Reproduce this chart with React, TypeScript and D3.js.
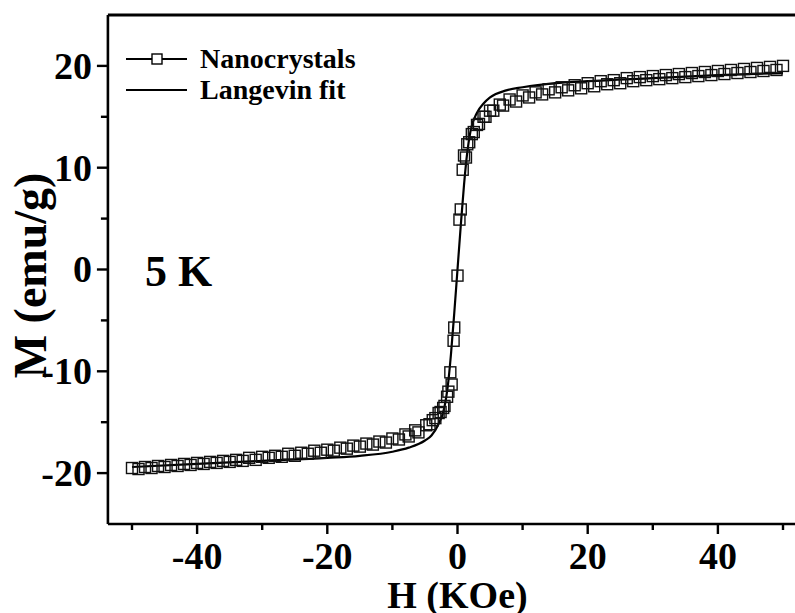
import React from "react";
import { scaleLinear, line, curveMonotoneX } from "d3";

// descending sweep (+50 -> -50 kOe)
const downH = [50, 48, 46, 44, 42, 40, 38, 36, 34, 32, 30, 28, 26, 24, 22, 20, 18, 16, 14, 12, 10, 8, 6.5, 5, 4, 3, 2.2, 1.5, 1.0, 0.5, 0, -0.5, -1.1, -1.6, -2.2, -2.9, -3.8, -4.8, -6.5, -8, -10, -12, -14, -16, -18, -20, -22, -24, -26, -28, -30, -32, -34, -36, -38, -40, -42, -44, -46, -48, -50];
const downM = [20.0, 19.9, 19.8, 19.7, 19.6, 19.5, 19.4, 19.3, 19.2, 19.1, 19.0, 18.9, 18.8, 18.6, 18.5, 18.3, 18.1, 17.9, 17.7, 17.4, 17.1, 16.7, 16.2, 15.6, 15.0, 14.2, 13.3, 12.3, 11.2, 5.9, -0.6, -5.7, -10.1, -12.5, -13.6, -14.1, -14.8, -15.3, -15.8, -16.2, -16.6, -16.9, -17.1, -17.3, -17.5, -17.7, -17.8, -18.0, -18.1, -18.3, -18.4, -18.5, -18.7, -18.8, -18.9, -19.0, -19.1, -19.2, -19.3, -19.4, -19.5];

// ascending sweep (-50 -> +50 kOe)
const upH = [-49, -47, -45, -43, -41, -39, -37, -35, -33, -31, -29, -27, -25, -23, -21, -19, -17, -15, -13, -11, -9, -7.5, -6, -4.3, -3.4, -2.6, -2, -1.4, -0.9, -0.6, 0.3, 0.8, 1.3, 1.8, 2.5, 3.3, 4.3, 5.5, 7, 9, 11, 13, 15, 17, 19, 21, 23, 25, 27, 29, 31, 33, 35, 37, 39, 41, 43, 45, 47, 49];
const upM = [-19.6, -19.5, -19.4, -19.3, -19.2, -19.1, -19.0, -18.9, -18.8, -18.7, -18.5, -18.4, -18.3, -18.1, -18.0, -17.8, -17.6, -17.4, -17.2, -17.0, -16.7, -16.4, -16.0, -15.2, -14.6, -14.0, -13.4, -12.0, -11.3, -7.0, 4.9, 9.8, 11.0, 12.5, 13.5, 14.3, 15.0, 15.6, 16.1, 16.5, 16.9, 17.2, 17.4, 17.6, 17.8, 18.0, 18.2, 18.3, 18.5, 18.6, 18.7, 18.8, 18.9, 19.0, 19.1, 19.2, 19.3, 19.4, 19.5, 19.6];

// Langevin fit curve
const fitH = [-50, -40, -30, -20, -15, -10, -7.5, -5, -4, -3, -2, -1.5, -1, -0.5, 0, 0.5, 1, 1.5, 2, 3, 4, 5, 7.5, 10, 15, 20, 30, 40, 50];
const fitM = [-19.4, -19.1, -18.8, -18.5, -18.3, -17.9, -17.5, -16.8, -16.3, -15.3, -13.5, -11.5, -8.3, -4.3, 0, 4.3, 8.3, 11.5, 13.6, 15.4, 16.3, 16.9, 17.6, 17.9, 18.3, 18.5, 18.8, 19.1, 19.3];

const xMajor = [-40, -20, 0, 20, 40];
const xMinor = [-50, -30, -10, 10, 30, 50];
const yMajor = [-20, -10, 0, 10, 20];
const yMinor = [-15, -5, 5, 15];

const W = 795;
const H = 613;
const FONT = "'Liberation Serif', 'Times New Roman', serif";

export default function App() {
  const x = scaleLinear().domain([-50, 50]).range([132, 783]);
  const y = scaleLinear().domain([-25, 25]).range([524, 15]);
  const left = x(-53.7);
  const right = W;
  const bottom = y(-25);
  const top = y(25);

  const fitLine = line<number>()
    .x((_, i) => x(fitH[i]))
    .y((_, i) => y(fitM[i]))
    .curve(curveMonotoneX);

  const pts = [
    ...downH.map((h, i) => ({ h, m: downM[i] })),
    ...upH.map((h, i) => ({ h, m: upM[i] })),
  ];
  const sq = 11;

  return (
    <svg
      width={W}
      height={H}
      style={{ position: "absolute", left: 0, top: 0, background: "#fff" }}
      fontFamily={FONT}
      fontWeight="bold"
    >
      <rect width={W} height={H} fill="#fff" />

      {/* data */}
      <path d={fitLine(fitH) ?? ""} fill="none" stroke="#000" strokeWidth={2.2} />
      {pts.map((p, i) => (
        <rect
          key={i}
          x={x(p.h) - sq / 2}
          y={y(p.m) - sq / 2}
          width={sq}
          height={sq}
          fill="none"
          stroke="#111"
          strokeWidth={1.4}
        />
      ))}

      {/* frame */}
      <line x1={left} x2={right} y1={top} y2={top} stroke="#000" strokeWidth={3} />
      <line x1={left} x2={right} y1={bottom} y2={bottom} stroke="#000" strokeWidth={2.6} />
      <line x1={left} x2={left} y1={top} y2={bottom} stroke="#000" strokeWidth={2.6} />

      {/* x ticks */}
      {xMajor.map((t) => (
        <g key={"xM" + t}>
          <line x1={x(t)} x2={x(t)} y1={bottom} y2={bottom + 10} stroke="#000" strokeWidth={2.4} />
          <text x={x(t)} y={569} textAnchor="middle" fontSize={38}>
            {t}
          </text>
        </g>
      ))}
      {xMinor.map((t) => (
        <line key={"xm" + t} x1={x(t)} x2={x(t)} y1={bottom} y2={bottom + 6} stroke="#000" strokeWidth={2.4} />
      ))}

      {/* y ticks */}
      {yMajor.map((t) => (
        <g key={"yM" + t}>
          <line x1={left - 11} x2={left} y1={y(t)} y2={y(t)} stroke="#000" strokeWidth={2.4} />
          <text x={left - 16} y={y(t)} dy="0.34em" textAnchor="end" fontSize={38}>
            {t}
          </text>
        </g>
      ))}
      {yMinor.map((t) => (
        <line key={"ym" + t} x1={left - 7} x2={left} y1={y(t)} y2={y(t)} stroke="#000" strokeWidth={2.4} />
      ))}

      {/* axis titles */}
      <text x={x(0)} y={608} textAnchor="middle" fontSize={38}>
        H (KOe)
      </text>
      <text
        transform={`translate(46,${y(0) + 6}) rotate(-90)`}
        textAnchor="middle"
        fontSize={46}
      >
        M (emu/g)
      </text>

      {/* legend */}
      <line x1={126} x2={187} y1={59} y2={59} stroke="#000" strokeWidth={2} />
      <rect x={152} y={54} width={10} height={10} fill="#fff" stroke="#000" strokeWidth={1.4} />
      <text x={200} y={68} fontSize={28}>
        Nanocrystals
      </text>
      <line x1={126} x2={187} y1={90} y2={90} stroke="#000" strokeWidth={2} />
      <text x={200} y={99} fontSize={28}>
        Langevin fit
      </text>

      <text x={145} y={286} fontSize={44}>
        5 K
      </text>
    </svg>
  );
}
